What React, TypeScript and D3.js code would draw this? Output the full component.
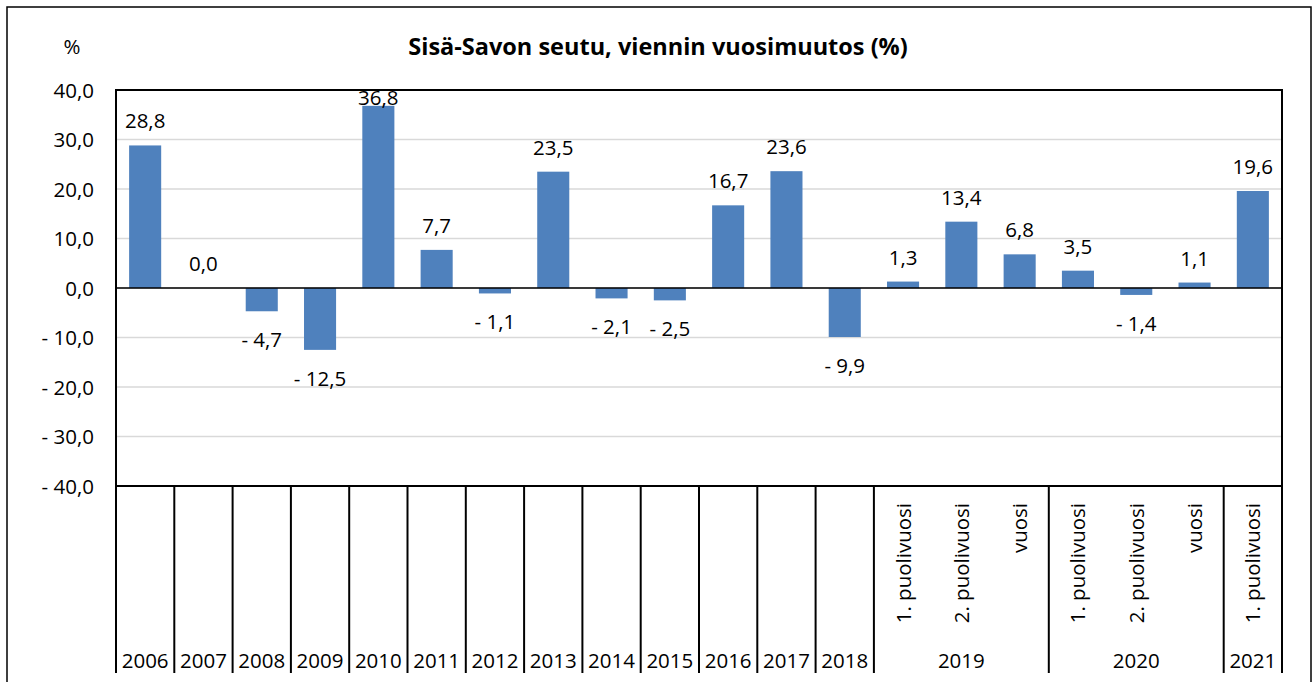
import React from "react";
import * as d3 from "d3";

// data
const periods = [
  "", "", "", "", "", "", "", "", "", "", "", "", "",
  "1. puolivuosi", "2. puolivuosi", "vuosi",
  "1. puolivuosi", "2. puolivuosi", "vuosi",
  "1. puolivuosi",
];
const years = [
  "2006", "2007", "2008", "2009", "2010", "2011", "2012", "2013", "2014",
  "2015", "2016", "2017", "2018", "2019", "2020", "2021",
];
const yearSpans = [1, 1, 1, 1, 1, 1, 1, 1, 1, 1, 1, 1, 1, 3, 3, 1];
const values = [
  28.8, 0.0, -4.7, -12.5, 36.8, 7.7, -1.1, 23.5, -2.1, -2.5, 16.7, 23.6, -9.9,
  1.3, 13.4, 6.8, 3.5, -1.4, 1.1, 19.6,
];
const yTicks = [40, 30, 20, 10, 0, -10, -20, -30, -40];

const W = 1314;
const H = 682;
const plot = { left: 116, right: 1282, top: 90, bottom: 486 };
const axisBottom = 673;
const font = "'Open Sans', sans-serif";
const fs = 20.5;

const fmt = (v: number) => {
  const s = Math.abs(v).toFixed(1).replace(".", ",");
  return v < 0 ? "- " + s : s;
};

export default function App() {
  const x = d3
    .scaleBand<number>()
    .domain(d3.range(values.length))
    .range([plot.left, plot.right])
    .paddingInner(0.45)
    .paddingOuter(0.225);
  const y = d3.scaleLinear().domain([-40, 40]).range([plot.bottom, plot.top]);
  const step = x.step();
  const catLeft = (i: number) => plot.left + i * step;

  // group boundaries on the category axis
  const bounds: number[] = [0];
  yearSpans.forEach((s) => bounds.push(bounds[bounds.length - 1] + s));

  return (
    <svg
      width={W}
      height={H}
      style={{ position: "absolute", left: 0, top: 0, background: "#fff" }}
      fontFamily={font}
    >
      <rect x={7} y={7} width={1304} height={700} fill="#fff" stroke="#000" strokeWidth={1.5} />

      <text x={72} y={54} fontSize={fs} textAnchor="middle">%</text>
      <text x={658} y={55} fontSize={23.5} fontWeight="bold" textAnchor="middle">
        Sisä-Savon seutu, viennin vuosimuutos (%)
      </text>

      {/* gridlines */}
      {yTicks.map((t) => (
        <line
          key={"g" + t}
          x1={plot.left}
          x2={plot.right}
          y1={y(t)}
          y2={y(t)}
          stroke="#d9d9d9"
          strokeWidth={1.5}
        />
      ))}
      {yTicks.map((t) => (
        <text key={"t" + t} x={94} y={y(t) + 7.5} fontSize={fs} textAnchor="end">
          {fmt(t)}
        </text>
      ))}

      {/* bars */}
      {values.map((v, i) => (
        <rect
          key={"b" + i}
          x={x(i)}
          width={x.bandwidth()}
          y={Math.min(y(v), y(0))}
          height={Math.abs(y(v) - y(0))}
          fill="#4f81bd"
        />
      ))}
      {values.map((v, i) => {
        const yy = v >= 0 ? Math.max(y(v) - 17, plot.top + 15) : y(v) + 36;
        return (
          <text
            key={"l" + i}
            x={(x(i) as number) + x.bandwidth() / 2}
            y={yy}
            fontSize={fs}
            textAnchor="middle"
          >
            {fmt(v)}
          </text>
        );
      })}

      {/* zero line and plot frame */}
      <line x1={plot.left} x2={plot.right} y1={y(0)} y2={y(0)} stroke="#000" strokeWidth={1.5} />
      <rect
        x={plot.left}
        y={plot.top}
        width={plot.right - plot.left}
        height={plot.bottom - plot.top}
        fill="none"
        stroke="#000"
        strokeWidth={2}
      />

      {/* category axis separators */}
      {bounds.map((b) => (
        <line
          key={"s" + b}
          x1={catLeft(b)}
          x2={catLeft(b)}
          y1={plot.bottom}
          y2={axisBottom}
          stroke="#000"
          strokeWidth={2}
        />
      ))}
      {periods.map((p, i) =>
        p ? (
          <text
            key={"p" + i}
            transform={`translate(${catLeft(i) + step / 2 + 7.5},503) rotate(-90)`}
            fontSize={fs}
            textAnchor="end"
          >
            {p}
          </text>
        ) : null
      )}
      {years.map((yr, k) => (
        <text
          key={"y" + yr}
          x={(catLeft(bounds[k]) + catLeft(bounds[k + 1])) / 2}
          y={668}
          fontSize={fs}
          textAnchor="middle"
        >
          {yr}
        </text>
      ))}
    </svg>
  );
}
